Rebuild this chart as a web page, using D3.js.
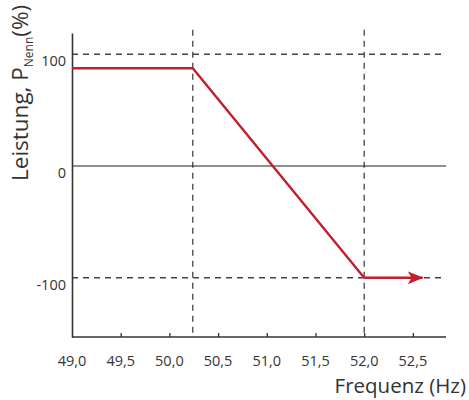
<!DOCTYPE html>
<html>
<head>
<meta charset="utf-8">
<script src="https://cdn.jsdelivr.net/npm/d3@7"></script>
<style>
  body { margin: 0; background: #fff; }
  text { font-family: "Open Sans", sans-serif; fill: #333; }
</style>
</head>
<body>
<svg id="chart" width="469" height="400"></svg>
<script>
// data
const xTicks = [49.0, 49.5, 50.0, 50.5, 51.0, 51.5, 52.0, 52.5];
const yTicks = [100, 0, -100];
const curveF = [49.0, 50.24, 52.0];
const curveP = [87.5, 87.5, -100];
const arrowF = [52.0, 52.6];
const arrowP = [-100, -100];
const markF = [50.24, 52.0];   // vertical dashed lines
const markP = [100, -100];     // horizontal dashed lines

const svg = d3.select('#chart');
const x = d3.scaleLinear().domain([49.0, 52.84]).range([72, 446]);
const y = d3.scaleLinear().domain([-153, 119]).range([337, 33]);
const fmt = d => d3.format('.1f')(d).replace('.', ',');
const red = '#c21e2e';

// arrow head
svg.append('defs').append('marker')
  .attr('id', 'arrow')
  .attr('viewBox', '0 0 16 13')
  .attr('refX', 15).attr('refY', 6.5)
  .attr('markerWidth', 16).attr('markerHeight', 13)
  .attr('markerUnits', 'userSpaceOnUse')
  .attr('orient', 'auto')
  .append('path')
  .attr('d', 'M0,0 L16,6.5 L0,13 L4,6.5 z')
  .attr('fill', red);

// dashed reference lines
svg.selectAll('.hdash').data(markP).enter().append('line')
  .attr('x1', x(49.0)).attr('x2', x(52.84))
  .attr('y1', d => y(d)).attr('y2', d => y(d))
  .attr('stroke', '#444').attr('stroke-width', 1.3)
  .attr('stroke-dasharray', '6,5');

svg.selectAll('.vdash').data(markF).enter().append('line')
  .attr('x1', d => x(d)).attr('x2', d => x(d))
  .attr('y1', y(122)).attr('y2', y(-153))
  .attr('stroke', '#444').attr('stroke-width', 1.3)
  .attr('stroke-dasharray', '6,5');

// zero line
svg.append('line')
  .attr('x1', x(49.0)).attr('x2', x(52.84))
  .attr('y1', y(0)).attr('y2', y(0))
  .attr('stroke', '#222').attr('stroke-width', 1.2);

// x axis with inward ticks
const xAxis = svg.append('g')
  .attr('transform', `translate(0,${y(-153)})`)
  .call(d3.axisTop(x).tickValues(xTicks.slice(1)).tickSize(4).tickFormat(''));
xAxis.select('.domain').attr('d', `M${x(49.0)},0H${x(52.84)}`)
  .attr('stroke', '#333').attr('stroke-width', 1.6);
xAxis.selectAll('.tick line').attr('stroke', '#333').attr('stroke-width', 1.3);

// x tick labels
svg.selectAll('.xlab').data(xTicks).enter().append('text')
  .attr('x', d => x(d)).attr('y', 366)
  .attr('text-anchor', 'middle')
  .style('font-size', '14.5px')
  .text(fmt);

// y axis
const yAxis = svg.append('g')
  .attr('transform', `translate(${x(49.0)},0)`)
  .call(d3.axisLeft(y).tickValues([]).tickSize(0));
yAxis.select('.domain').attr('stroke', '#333').attr('stroke-width', 1.6);

svg.selectAll('.ylab').data(yTicks).enter().append('text')
  .attr('x', 66).attr('y', d => y(d) + 12)
  .attr('text-anchor', 'end')
  .style('font-size', '14.5px')
  .text(d => d);

// red characteristic curve
const line = d3.line().x(d => x(d[0])).y(d => y(d[1]));
svg.append('path')
  .datum(d3.zip(curveF, curveP))
  .attr('d', line)
  .attr('fill', 'none').attr('stroke', red).attr('stroke-width', 2.4);

svg.append('path')
  .datum(d3.zip(arrowF, arrowP))
  .attr('d', line)
  .attr('fill', 'none').attr('stroke', red).attr('stroke-width', 2.4)
  .attr('marker-end', 'url(#arrow)');

// axis titles
svg.append('text')
  .attr('x', 466).attr('y', 393)
  .attr('text-anchor', 'end')
  .style('font-size', '20.5px')
  .text('Frequenz (Hz)');

const yt = svg.append('text')
  .attr('transform', 'translate(28,181) rotate(-90)')
  .style('font-size', '22.5px');
yt.append('tspan').text('Leistung, P');
yt.append('tspan').attr('dy', 5).style('font-size', '12px').text('Nenn');
yt.append('tspan').attr('dy', -5).text('(%)');
</script>
</body>
</html>
